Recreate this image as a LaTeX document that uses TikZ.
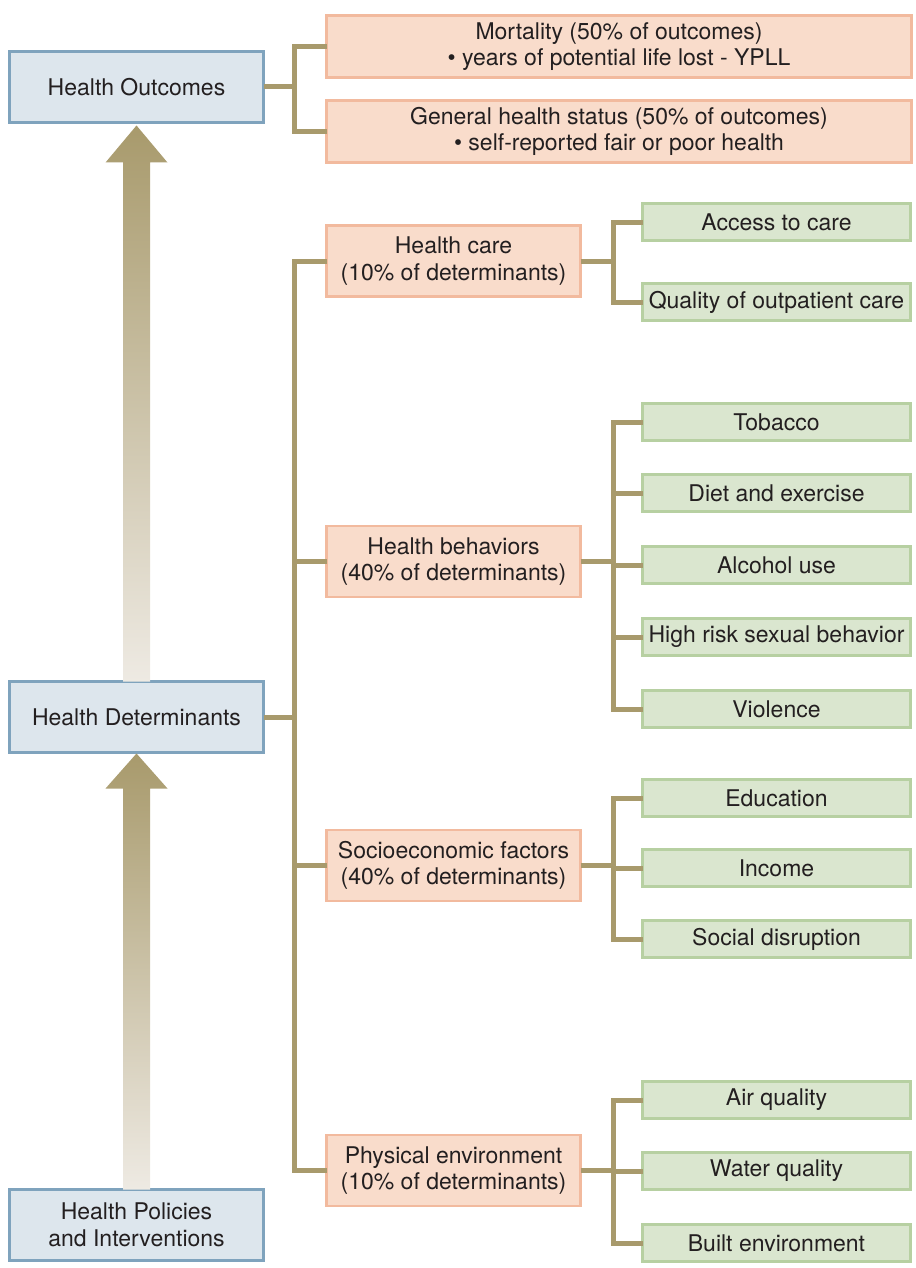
\documentclass[tikz,border=0pt]{standalone}
\usepackage{fontspec}
\setmainfont{TeX Gyre Heros}
\usetikzlibrary{calc}
\definecolor{boxblue}{HTML}{DDE6ED}
\definecolor{edgeblue}{HTML}{7FA3BD}
\definecolor{boxpink}{HTML}{F9DCCB}
\definecolor{edgepink}{HTML}{F2BA9E}
\definecolor{boxgreen}{HTML}{DAE6CF}
\definecolor{edgegreen}{HTML}{B7D0A2}
\definecolor{linktan}{HTML}{A89A6C}
\definecolor{arrowpale}{HTML}{EEEAE3}
\definecolor{inktext}{HTML}{231F20}
\tikzset{
  every node/.style={font=\fontsize{23}{26.5}\selectfont, text=inktext, align=center, inner sep=0pt, outer sep=0pt},
  levelbox/.style={fill=boxblue, draw=edgeblue, line width=2.5pt, minimum width=254pt, minimum height=71pt},
  outcomebox/.style={fill=boxpink, draw=edgepink, line width=2.5pt, minimum width=585pt, minimum height=62pt},
  factorbox/.style={fill=boxpink, draw=edgepink, line width=2.5pt, minimum width=254pt, minimum height=71pt},
  measurebox/.style={fill=boxgreen, draw=edgegreen, line width=2.5pt, minimum width=268pt, minimum height=37pt},
  link/.style={draw=linktan, line width=5pt, line join=miter, line cap=butt},
}
\begin{document}
\begin{tikzpicture}[y=1pt, x=1pt, yscale=-1]
\useasboundingbox (0,0) rectangle (915,1268);
% levels
\node[levelbox] (ho) at (136.5,87) {Health Outcomes};
\node[levelbox] (hd) at (136.5,717) {Health Determinants};
\node[levelbox] (hp) at (136.5,1225) {Health Policies\\and Interventions};
% big arrows
\shade[top color=linktan, bottom color=arrowpale]
  ([xshift=-13.5pt]hd.north) -- ([xshift=-13.5pt,yshift=40pt]ho.south) -- ([xshift=-31pt,yshift=40pt]ho.south)
  -- ([yshift=3pt]ho.south) -- ([xshift=31pt,yshift=40pt]ho.south) -- ([xshift=13.5pt,yshift=40pt]ho.south)
  -- ([xshift=13.5pt]hd.north) -- cycle;
\shade[top color=linktan, bottom color=arrowpale]
  ([xshift=-13.5pt]hp.north) -- ([xshift=-13.5pt,yshift=36pt]hd.south) -- ([xshift=-31pt,yshift=36pt]hd.south)
  -- ([yshift=1pt]hd.south) -- ([xshift=31pt,yshift=36pt]hd.south) -- ([xshift=13.5pt,yshift=36pt]hd.south)
  -- ([xshift=13.5pt]hp.north) -- cycle;
% outcomes
\node[outcomebox] (mort) at (619,46.5) {Mortality (50\% of outcomes)\\• years of potential life lost - YPLL};
\node[outcomebox] (gen) at (619,131.5) {General health status (50\% of outcomes)\\• self-reported fair or poor health};
% determinants
\node[factorbox] (hc) at (453.5,261) {Health care\\(10\% of determinants)};
\node[factorbox] (hb) at (453.5,561.5) {Health behaviors\\(40\% of determinants)};
\node[factorbox] (se) at (453.5,865.5) {Socioeconomic factors\\(40\% of determinants)};
\node[factorbox] (pe) at (453.5,1170.5) {Physical environment\\(10\% of determinants)};
% measures
\node[measurebox] (acc) at (776.5,222) {Access to care};
\node[measurebox] (qual) at (776.5,302) {Quality of outpatient care};
\node[measurebox] (tob) at (776.5,422) {Tobacco};
\node[measurebox] (diet) at (776.5,493) {Diet and exercise};
\node[measurebox] (alc) at (776.5,565) {Alcohol use};
\node[measurebox] (risk) at (776.5,637) {High risk sexual behavior};
\node[measurebox] (viol) at (776.5,709) {Violence};
\node[measurebox] (edu) at (776.5,798) {Education};
\node[measurebox] (inc) at (776.5,868) {Income};
\node[measurebox] (soc) at (776.5,939) {Social disruption};
\node[measurebox] (air) at (776.5,1100) {Air quality};
\node[measurebox] (wat) at (776.5,1171) {Water quality};
\node[measurebox] (blt) at (776.5,1243) {Built environment};
% brackets
\draw[link] (ho.east) -- ++(28,0);
\draw[link] (mort.west) -- ++(-32,0) |- (gen.west);
\draw[link] (hd.east) -- ++(28,0);
\draw[link] (hc.west) -- ++(-32,0) |- (pe.west);
\foreach \f in {hb,se}
  \draw[link] (\f.west) -- ++(-32,0);
\foreach \f/\a/\b in {hc/acc/qual, hb/tob/viol, se/edu/soc, pe/air/blt} {
  \draw[link] (\f.east) -- ++(30,0);
  \draw[link] (\a.west) -- ++(-29,0) |- (\b.west);
}
\foreach \m in {diet,alc,risk,inc,wat}
  \draw[link] (\m.west) -- ++(-29,0);
\end{tikzpicture}
\end{document}
